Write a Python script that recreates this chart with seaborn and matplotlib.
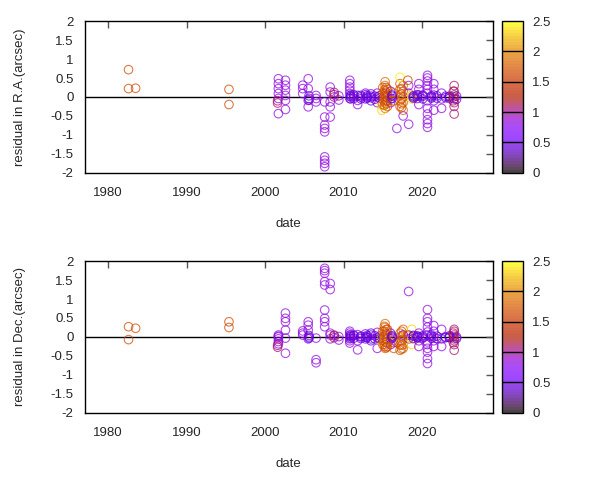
import numpy as np
import pandas as pd
import matplotlib
matplotlib.use("Agg")
import matplotlib.pyplot as plt
from matplotlib.colors import ListedColormap, Normalize
from matplotlib.cm import ScalarMappable
import seaborn as sns

# one entry per observing epoch: date, colour value, residuals in RA and Dec
epochs = [1982.6, 1983.5, 1995.4, 2001.7, 2001.6, 2002.6, 2004.8, 2005.5, 2005.6,
          2006.5, 2007.6, 2008.3, 2008.8, 2009.4, 2010.8, 2010.9, 2011.8, 2012.8,
          2013.5, 2014.3, 2014.6, 2015.0, 2015.3, 2015.6, 2014.9, 2016.0, 2016.4,
          2016.8, 2017.2, 2017.6, 2017.2, 2017.6, 2018.3, 2018.2, 2018.7, 2019.6,
          2019.4, 2020.7, 2021.5, 2021.2, 2022.5, 2023.0, 2024.1, 2024.4,
          2011.3, 2012.2, 2013.0, 2014.0, 2015.2, 2015.45, 2016.2, 2017.4, 2018.9,
          2020.1, 2021.9, 2023.5, 2024.0]
weights = [1.6, 1.6, 1.6, 0.8, 1.05, 0.8, 0.8, 0.8, 0.4,
           0.8, 0.8, 0.8, 1.05, 0.8, 0.8, 0.4, 0.8, 0.7,
           0.4, 0.8, 0.4, 1.7, 1.8, 1.6, 2.3, 0.8, 1.7,
           0.8, 1.7, 1.8, 2.4, 0.8, 0.8, 1.6, 2.3, 0.8,
           0.4, 0.8, 0.8, 0.4, 0.8, 0.4, 1.05, 0.5,
           0.4, 0.4, 0.4, 0.4, 1.75, 1.65, 0.4, 1.7, 0.4,
           0.4, 0.4, 0.4, 1.1]
ra_groups = [
    [0.72, 0.22], [0.23], [0.20, -0.20],
    [0.48, 0.35, 0.22, 0.09, -0.04, -0.44], [-0.10, -0.16],
    [0.44, 0.31, 0.18, 0.04, -0.09, -0.33], [0.31, 0.22, 0.09],
    [0.48, 0.22, -0.09, -0.26], [0.03, -0.04, -0.08],
    [0.04, -0.04, -0.13],
    [-0.13, -0.53, -0.74, -0.83, -0.92, -1.58, -1.67, -1.75, -1.84],
    [0.26, 0.13, -0.13, -0.26, -0.53], [0.12, 0.06, 0.0], [0.03, -0.08],
    [0.44, 0.35, 0.26, 0.18, 0.09, -0.04], [0.0, -0.05, 0.05, 0.02],
    [0.04, -0.09, -0.20], [0.06, -0.05, 0.10], [0.02, -0.02, 0.08, -0.10],
    [0.10, 0.0, -0.15], [0.03, -0.03],
    [0.25, 0.10, -0.05, -0.20], [0.40, 0.30, 0.15, 0.0, -0.15, -0.30],
    [0.20, 0.05, -0.10, -0.25], [-0.35, -0.22], [0.15, -0.05, -0.15],
    [0.10, -0.10], [-0.83], [0.35, 0.20, 0.05, -0.10, -0.25],
    [0.30, 0.15, 0.0, -0.15, -0.35], [0.52], [-0.50], [-0.72, 0.30, 0.10],
    [0.44], [0.05, -0.05, 0.0], [0.35, 0.20, 0.05, -0.20], [0.02, -0.04, 0.06],
    [0.57, 0.50, 0.42, 0.30, 0.20, 0.10, -0.10, -0.30, -0.45, -0.60, -0.70, -0.80],
    [0.35, 0.20, 0.05, -0.10, -0.35], [0.03, -0.03, 0.0], [0.10, -0.05, -0.30],
    [0.02, -0.02], [0.30, 0.15, 0.05, -0.05, -0.15, -0.25, -0.45], [0.02, -0.06],
    [0.02, -0.04, 0.06], [0.0, -0.05, 0.04], [0.03, -0.03, 0.0], [0.02, -0.06],
    [0.18, 0.08, -0.02, -0.12, -0.22], [0.25, 0.12, 0.0, -0.10, -0.18],
    [0.02, -0.04, 0.05], [0.22, 0.08, -0.05, -0.18, -0.28], [0.03, -0.03, 0.0],
    [0.02, -0.05, 0.05], [0.03, -0.03], [0.02, -0.04, 0.0], [0.15, 0.0, -0.10],
]
dec_groups = [
    [0.27, -0.07], [0.23], [0.40, 0.25],
    [0.05, 0.02, -0.05, -0.12, -0.18, 0.0], [-0.22, -0.27],
    [0.63, 0.49, 0.40, 0.18, -0.03, -0.43], [0.10, 0.16, 0.05],
    [0.40, 0.31, 0.18, -0.05], [0.04, -0.03, 0.0],
    [-0.03, -0.60, -0.68],
    [1.81, 1.75, 1.68, 1.46, 1.37, 0.71, 0.49, 0.40, 0.27],
    [1.41, 1.25, 0.05, -0.05, 0.10], [0.03, -0.02, 0.05], [0.01, -0.08],
    [0.15, 0.10, 0.05, -0.05, -0.10, -0.16], [0.02, -0.03, 0.0, 0.05],
    [0.06, -0.10, -0.34], [0.08, -0.05, 0.0], [0.05, -0.05, 0.10, -0.10],
    [0.12, -0.02, -0.30], [0.02, -0.04],
    [0.15, 0.0, -0.10, -0.20], [0.35, 0.25, 0.10, -0.05, -0.20, -0.30],
    [0.20, 0.05, -0.15, -0.25], [-0.12, 0.02], [0.10, -0.05, -0.20],
    [-0.15, -0.30], [-0.15], [0.10, 0.0, -0.10, -0.20, -0.35],
    [0.20, 0.05, -0.05, -0.20, -0.30], [0.0], [0.05], [1.20, -0.05, 0.05],
    [0.05], [0.20, -0.05, -0.20], [0.10, 0.0, -0.10, -0.25], [0.03, -0.02, 0.0],
    [0.72, 0.49, 0.40, 0.26, 0.13, 0.05, -0.13, -0.40, -0.57, -0.70, -0.30, -0.20],
    [0.30, 0.15, 0.0, -0.10, -0.25], [0.02, -0.03, 0.05], [0.20, -0.05, -0.25],
    [0.0, -0.02], [0.20, 0.15, 0.05, -0.05, -0.10, -0.20, -0.35], [0.0, -0.04],
    [0.03, -0.03, 0.05], [0.02, -0.04, 0.0], [0.04, -0.02, 0.0], [0.03, -0.05],
    [0.28, 0.15, 0.02, -0.12, -0.25], [0.20, 0.08, -0.05, -0.15, -0.28],
    [0.03, -0.03, 0.0], [0.15, 0.02, -0.10, -0.22, -0.32], [0.02, -0.04, 0.04],
    [0.03, -0.03, 0.0], [0.02, -0.04], [0.03, -0.02, 0.0], [0.10, 0.0, -0.15],
]

sizes = [len(g) for g in ra_groups]
df = pd.DataFrame({
    "date": np.repeat(epochs, sizes),
    "wt": np.repeat(weights, sizes),
    "ra": np.concatenate(ra_groups),
    "dec": np.concatenate(dec_groups),
})

sns.set_style("white")
plt.rcParams["font.family"] = ["Liberation Sans", "DejaVu Sans"]
plt.rcParams["font.size"] = 9.5
plt.rcParams["axes.unicode_minus"] = False

# gnuplot default palette (rgbformulae 7,5,15), semi transparent
colors = plt.get_cmap("gnuplot")(np.linspace(0, 1, 50))
colors[:, 3] = 0.72
cmap = ListedColormap(colors)
norm = Normalize(0, 2.5)

fig = plt.figure(figsize=(6, 4.8), dpi=100)
panels = [("ra", "residual in R.A.(arcsec)", 0.640),
          ("dec", "residual in Dec.(arcsec)", 0.140)]

for col, label, bottom in panels:
    ax = fig.add_axes([0.141, bottom, 0.68, 0.316])
    sns.scatterplot(data=df, x="date", y=col, hue="wt", palette=cmap,
                    hue_norm=norm, legend=False, ax=ax, s=38, marker="o",
                    linewidth=0.8)
    pts = ax.collections[-1]
    pts.set_edgecolors(pts.get_facecolors())
    pts.set_facecolor("none")
    ax.axhline(0, color="black", lw=1, zorder=0)

    ax.set_xlim(1977, 2029)
    ax.set_ylim(-2, 2)
    ax.set_xticks([1980, 1990, 2000, 2010, 2020])
    yt = np.arange(-2, 2.01, 0.5)
    ax.set_yticks(yt)
    ax.set_yticklabels([f"{v:g}" for v in yt])
    ax.tick_params(direction="in", top=True, right=True, length=5,
                   width=1, color="#555555")
    ax.tick_params(axis="x", pad=10)
    ax.tick_params(axis="y", pad=8)
    for sp in ax.spines.values():
        sp.set_color("black")
        sp.set_linewidth(1)
    ax.set_xlabel("date")
    ax.set_ylabel(label)
    ax.xaxis.set_label_coords(0.5, -0.30)
    ax.yaxis.set_label_coords(-0.144, 0.5)

    cax = fig.add_axes([0.836, bottom, 0.035, 0.316])
    cb = fig.colorbar(ScalarMappable(norm=norm, cmap=cmap), cax=cax)
    cb.set_ticks([0, 0.5, 1, 1.5, 2, 2.5])
    cb.set_ticklabels(["0", "0.5", "1", "1.5", "2", "2.5"])
    cax.tick_params(length=0, pad=7)
    for v in [0.5, 1, 1.5, 2]:
        cax.axhline(v, color="black", lw=1)
    cb.outline.set_edgecolor("black")
    cb.outline.set_linewidth(1)

fig.savefig("out.png", dpi=100)
